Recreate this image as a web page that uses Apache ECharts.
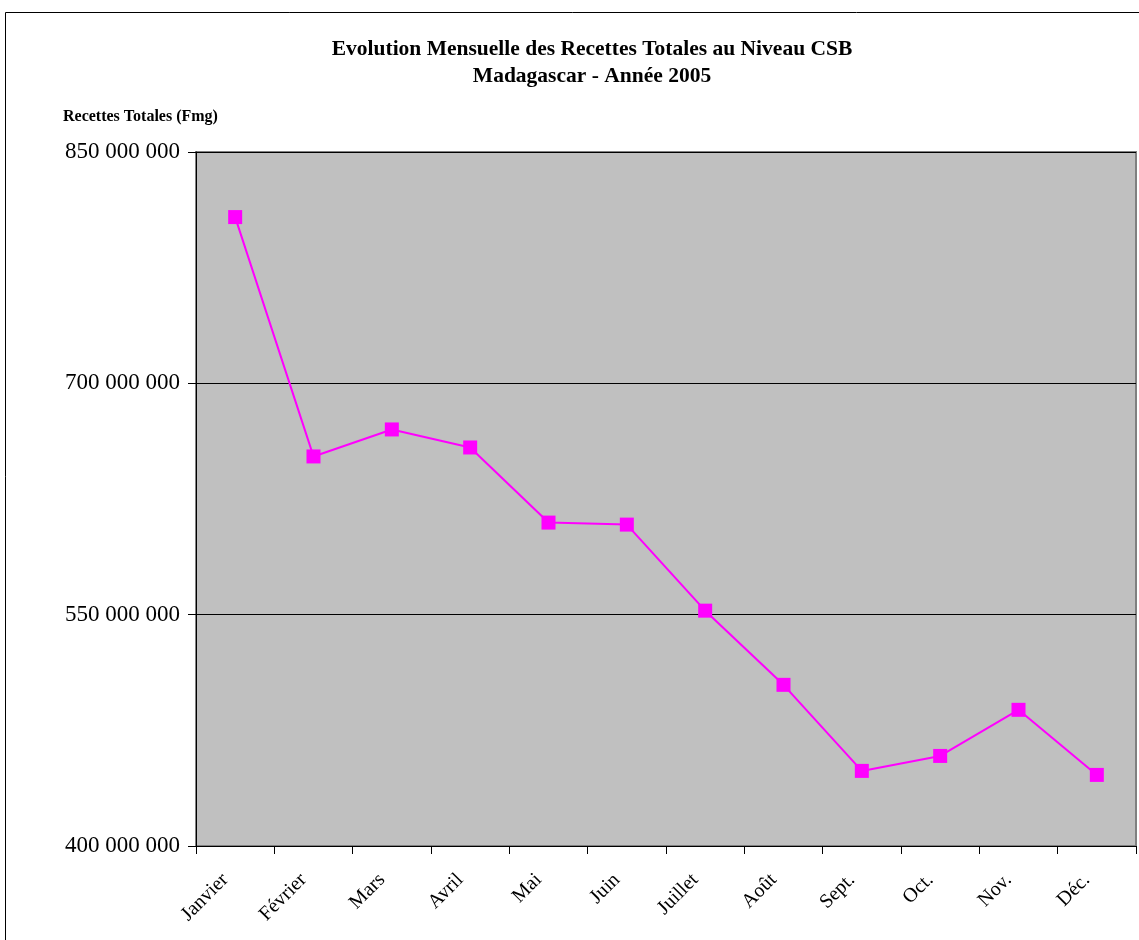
<!DOCTYPE html>
<html>
<head>
<meta charset="utf-8">
<script src="https://cdn.jsdelivr.net/npm/echarts@6/dist/echarts.min.js"></script>
<style>
html, body { margin: 0; padding: 0; background: #fff; }
#chart { width: 1139px; height: 940px; }
</style>
</head>
<body>
<div id="chart"></div>
<script>
var months = ['Janvier', 'Février', 'Mars', 'Avril', 'Mai', 'Juin', 'Juillet', 'Août', 'Sept.', 'Oct.', 'Nov.', 'Déc.'];
var recettes = [807800000, 652600000, 670100000, 658400000, 609700000, 608400000, 552600000, 504500000, 448700000, 458400000, 488300000, 446100000];

var chart = echarts.init(document.getElementById('chart'));

function fmt(v) {
    return String(v).replace(/\B(?=(\d{3})+(?!\d))/g, ' ');
}

var option = {
    backgroundColor: '#fff',
    animation: false,
    textStyle: { fontFamily: 'Liberation Serif' },
    graphic: [
        {
            type: 'rect',
            shape: { x: 5.5, y: 12.5, width: 1160, height: 960 },
            style: { fill: 'none', stroke: '#000', lineWidth: 1 },
            silent: true
        }
    ],
    title: {
        text: 'Evolution Mensuelle des Recettes Totales au Niveau CSB\nMadagascar - Année 2005',
        left: 587,
        textAlign: 'center',
        top: 31,
        textStyle: {
            fontFamily: 'Liberation Serif',
            fontWeight: 'bold',
            fontSize: 21.5,
            lineHeight: 27,
            color: '#000'
        }
    },
    grid: {
        left: 196,
        right: 3,
        top: 152,
        bottom: 94,
        show: true,
        backgroundColor: '#c0c0c0',
        borderColor: '#808080',
        borderWidth: 2
    },
    xAxis: {
        type: 'category',
        data: months,
        boundaryGap: true,
        axisLine: { lineStyle: { color: '#000', width: 1 } },
        axisTick: { show: true, inside: false, length: 8, lineStyle: { color: '#000' } },
        axisLabel: {
            rotate: 45,
            margin: 21,
            padding: [0, 14, 0, 0],
            color: '#000',
            fontSize: 20,
            fontFamily: 'Liberation Serif'
        },
        splitLine: { show: false }
    },
    yAxis: {
        type: 'value',
        min: 400000000,
        max: 850000000,
        interval: 150000000,
        name: 'Recettes Totales (Fmg)',
        nameLocation: 'end',
        nameGap: 27,
        nameTextStyle: {
            fontFamily: 'Liberation Serif',
            fontWeight: 'bold',
            fontSize: 16,
            color: '#000',
            align: 'left',
            padding: [0, 0, 0, -133]
        },
        axisLine: { show: true, lineStyle: { color: '#000', width: 1 } },
        axisTick: { show: true, inside: false, length: 8, lineStyle: { color: '#000' } },
        axisLabel: {
            color: '#000',
            fontSize: 23,
            margin: 16,
            fontFamily: 'Liberation Serif',
            formatter: fmt
        },
        splitLine: { show: true, lineStyle: { color: '#000', width: 1 } }
    },
    series: [
        {
            type: 'line',
            data: recettes,
            symbol: 'rect',
            symbolSize: 14,
            itemStyle: { color: '#ff00ff' },
            lineStyle: { color: '#ff00ff', width: 2 }
        }
    ]
};

chart.setOption(option);
</script>
</body>
</html>
